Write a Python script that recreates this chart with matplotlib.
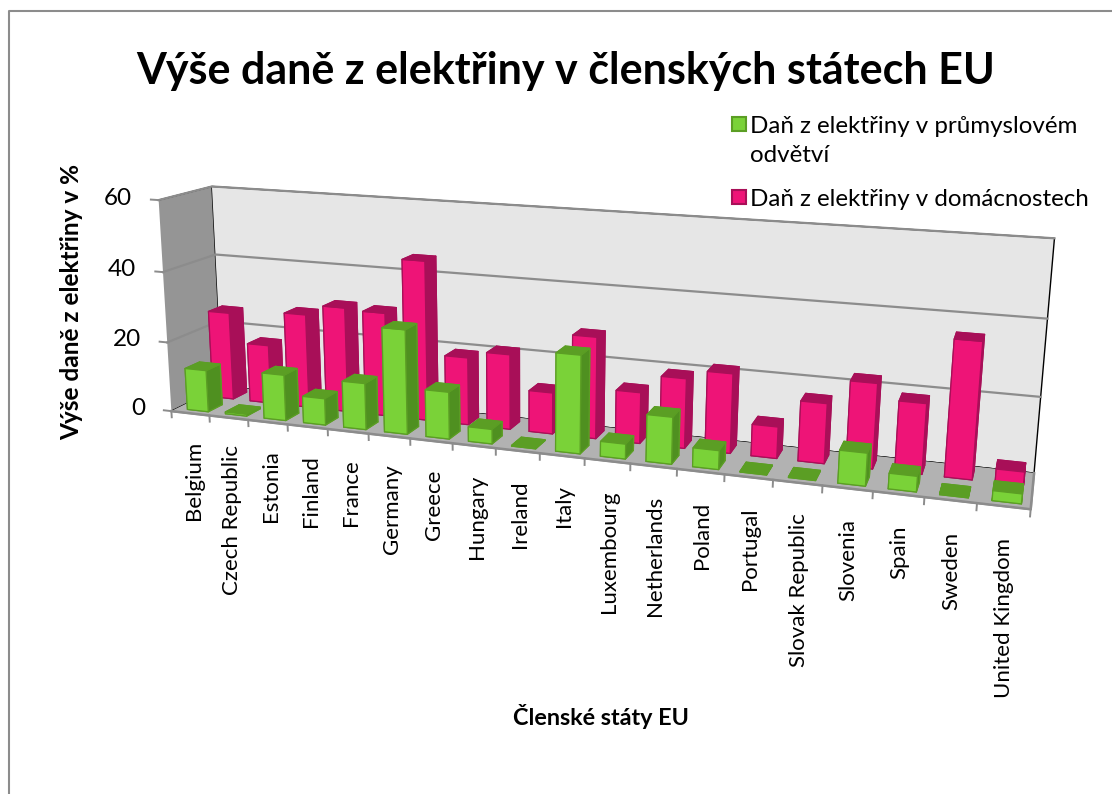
# Dan z elektriny - 3D bar chart
import matplotlib
matplotlib.use('Agg')
import matplotlib.pyplot as plt
from matplotlib.lines import Line2D
from matplotlib.patches import Rectangle
from mpl_toolkits.mplot3d import proj3d
from mpl_toolkits.mplot3d.art3d import Poly3DCollection
import numpy as np

plt.rcParams['font.family'] = ['Lato', 'Open Sans', 'DejaVu Sans']

countries = ['Belgium', 'Czech Republic', 'Estonia', 'Finland', 'France', 'Germany', 'Greece',
             'Hungary', 'Ireland', 'Italy', 'Luxembourg', 'Netherlands', 'Poland', 'Portugal',
             'Slovak Republic', 'Slovenia', 'Spain', 'Sweden', 'United Kingdom']
industry = [12, 0.5, 13, 7.5, 13, 29, 13, 4, 0.2, 26.5, 4, 12.5, 5, 0.2, 0.2, 8.5, 4, 0.3, 2.5]
household = [25.5, 17, 27, 30, 29.5, 45, 19, 21, 11.5, 28, 14, 19, 21.5, 8.5, 16, 22.5, 18.5, 35.5, 3.5]
z_ticks = [0, 20, 40, 60]

fig = plt.figure(figsize=(11.12, 7.94), dpi=100)
ax = fig.add_axes([-0.111, -0.054, 1.24, 1.24], projection='3d')
ax.computed_zorder = False

n = len(countries)
ax.set_xlim(0, n, view_margin=0)
ax.set_ylim(0, 2, view_margin=0)
ax.set_zlim(0, 60, view_margin=0)
ax.set_box_aspect((n, 2.2, 4.9), zoom=0.91)
ax.set_proj_type('persp', focal_length=0.28)
ax.view_init(elev=14, azim=-72, roll=-0.5)

# walls
ax.xaxis.set_pane_color('#959595')
ax.yaxis.set_pane_color('#E6E6E6')
ax.zaxis.set_pane_color('#B2B2B2')
ax.grid(False)
ax.set_xticks([])
ax.set_yticks([])
ax.set_zticks([])
for axis in (ax.xaxis, ax.yaxis, ax.zaxis):
    axis.line.set_color((0, 0, 0, 0))
    axis.pane.set_edgecolor((0, 0, 0, 0))

# the floor pane gets lost with this close a camera, so draw it as a polygon
ax.add_collection3d(Poly3DCollection([[(0, 0, 0), (n, 0, 0), (n, 2, 0), (0, 2, 0)]],
                                     facecolor='#B2B2B2', edgecolor='#B2B2B2', zorder=0))

# gridlines on the two walls
for z in z_ticks[1:]:
    ax.plot([0, 0, n], [0, 2, 2], [z, z, z], color='#8c8c8c', lw=1.6, zorder=1)

# bars
bar_w = 0.55
bar_d = 0.55
xs, ys, dz, colors, edges = [], [], [], [], []
green = ['#5B9E24', '#5B9E24', '#7AD238', '#5B9E24', '#4F9020', '#4F9020']
pink = ['#A80F58', '#A80F58', '#EE1477', '#A80F58', '#A80F58', '#A80F58']
for row, (vals, cols) in enumerate([(household, pink), (industry, green)]):
    for i, v in enumerate(vals):
        xs.append(i + 0.27)
        ys.append(1.22 if row == 0 else 0.22)
        dz.append(v)
        colors += cols
        edges += [cols[0]] * 6
ax.bar3d(xs, ys, np.zeros(len(xs)), bar_w, bar_d, dz, color=colors, shade=False,
         edgecolor=edges, linewidth=0.9, zorder=2)


def flat_text(x, y, z, s, **kw):
    # Text3D throws away rotation, so project the anchor and place a plain 2D text
    px, py, _ = proj3d.proj_transform(x, y, z, ax.get_proj())
    ax.text2D(px, py, s, transform=ax.transData, **kw)


# ticks + labels
ax.plot([0, n, n], [0, 0, 2], [0, 0, 0], color='#8c8c8c', lw=1.8, zorder=3)
for i in range(n + 1):
    ax.plot([i, i], [0, 0], [0, -1.8], color='#8c8c8c', lw=1.4, zorder=3)
for i, name in enumerate(countries):
    flat_text(i + 0.55, 0, -8, name, rotation=90, ha='center', va='top', fontsize=16)
for z in z_ticks:
    ax.plot([0, -0.2], [0, 0], [z, z], color='#8c8c8c', lw=1.4, zorder=3)
    flat_text(-0.7, 0, z, str(z), ha='right', va='center', fontsize=17.5)

fig.text(0.509, 0.91, 'Výše daně z elektřiny v členských státech EU', ha='center', va='center',
         fontsize=31, fontweight='bold')
fig.text(0.54, 0.098, 'Členské státy EU', ha='center', va='center', fontsize=16.8, fontweight='bold')
fig.text(0.064, 0.62, 'Výše daně z elektřiny v %', rotation=90, ha='center', va='center',
         fontsize=17.6, fontweight='bold')

# legend by hand: the swatch sits on the first line of the wrapped label
legend_rows = [('Daň z elektřiny v průmyslovém\nodvětví', '#7AD238', '#5B9E24', 0.8435),
               ('Daň z elektřiny v domácnostech', '#EE1477', '#A80F58', 0.752)]
for label, face, edge, y in legend_rows:
    fig.add_artist(Rectangle((0.6585, y - 0.0085), 0.0125, 0.0175, transform=fig.transFigure,
                             facecolor=face, edgecolor=edge, lw=1.5))
    fig.text(0.6745, y + 0.0105, label, ha='left', va='top', fontsize=17.4, linespacing=1.45)

# chart area border
fig.add_artist(Line2D([0.008, 0.008, 1.0], [0.0, 0.986, 0.986], color='#8c8c8c', lw=1.5))

fig.savefig('out.png', dpi=100)
